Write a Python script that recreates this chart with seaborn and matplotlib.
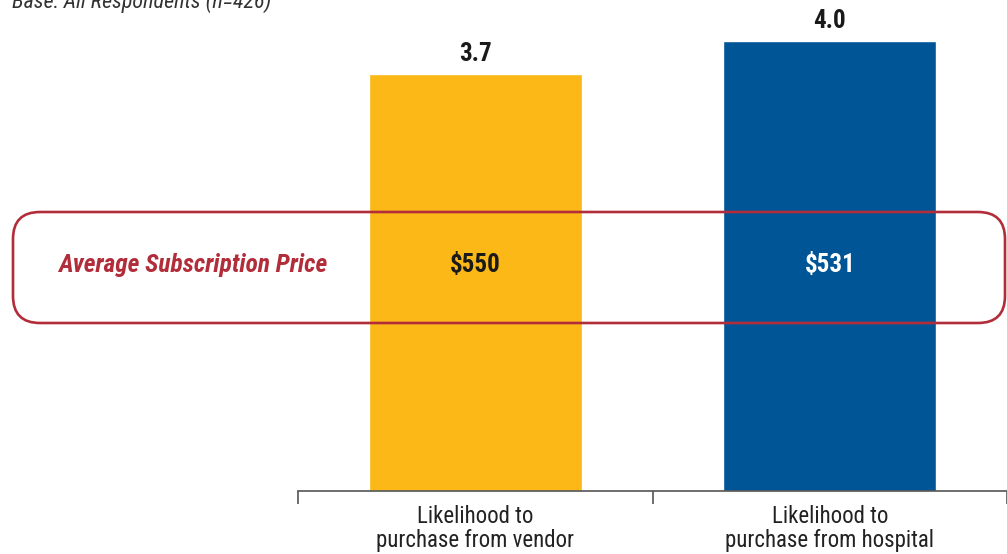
import matplotlib
matplotlib.use("Agg")
import matplotlib.pyplot as plt
from matplotlib.patches import FancyBboxPatch
import seaborn as sns
import pandas as pd

categories = ["Likelihood to\npurchase from vendor", "Likelihood to\npurchase from hospital"]
likelihood = [3.7, 4.0]
prices = ["$550", "$531"]
price_label = "Average Subscription Price"
base_note = "Base: All Respondents (n=426)"
bar_colors = ["#FBB817", "#005596"]
price_colors = ["#1a1a1a", "white"]

sns.set_style("white")
plt.rcParams['font.family'] = ['Roboto Condensed', 'Roboto', 'DejaVu Sans']

fig = plt.figure(figsize=(10.07, 5.54), dpi=100)
ax = fig.add_axes([0.296, 0.1137, 0.704, 0.8863])

df = pd.DataFrame({"cat": categories, "val": likelihood})
sns.barplot(data=df, x="cat", y="val", hue="cat", palette=bar_colors,
            width=0.6, saturation=1, legend=False, ax=ax)

ax.set_xlim(-0.5, 1.5)
ax.set_ylim(0, 4.36)
ax.set(xlabel=None, ylabel=None)
ax.set_yticks([])
sns.despine(ax=ax, left=True, top=True, right=True)
ax.spines['bottom'].set_color('#555555')
ax.spines['bottom'].set_linewidth(1.2)

# category boundary ticks
ax.set_xticks([-0.5, 0.5, 1.5], minor=True)
ax.tick_params(axis='x', which='minor', bottom=True, direction='out', length=9,
               width=1.2, color='#555555')
ax.tick_params(axis='x', which='major', length=0, pad=10, labelsize=16.5, labelcolor='#222222')
for lab in ax.get_xticklabels():
    lab.set_linespacing(1.05)

for i, v in enumerate(likelihood):
    ax.text(i, v + 0.07, f"{v:.1f}", ha='center', va='bottom',
            fontsize=18, fontweight='bold', color='#1a1a1a')
    ax.text(i, 0.46, prices[i], transform=ax.get_xaxis_transform(),
            ha='center', va='center', fontsize=18, fontweight='bold', color=price_colors[i])

# rounded box across the figure
box = FancyBboxPatch((0.13, 2.31), 9.92, 1.11, boxstyle="round,pad=0,rounding_size=0.27",
                     transform=fig.dpi_scale_trans, fill=False, edgecolor='#B22D3A',
                     linewidth=1.9, zorder=10)
fig.add_artist(box)
fig.text(0.191, 0.522, price_label, ha='center', va='center', fontsize=18.3,
         fontweight='bold', fontstyle='italic', color='#B22D3A')

fig.text(0.012, 0.986, base_note, ha='left', va='baseline', fontsize=15.8,
         fontstyle='italic', color='#333333')

fig.savefig("out.png", dpi=100)
